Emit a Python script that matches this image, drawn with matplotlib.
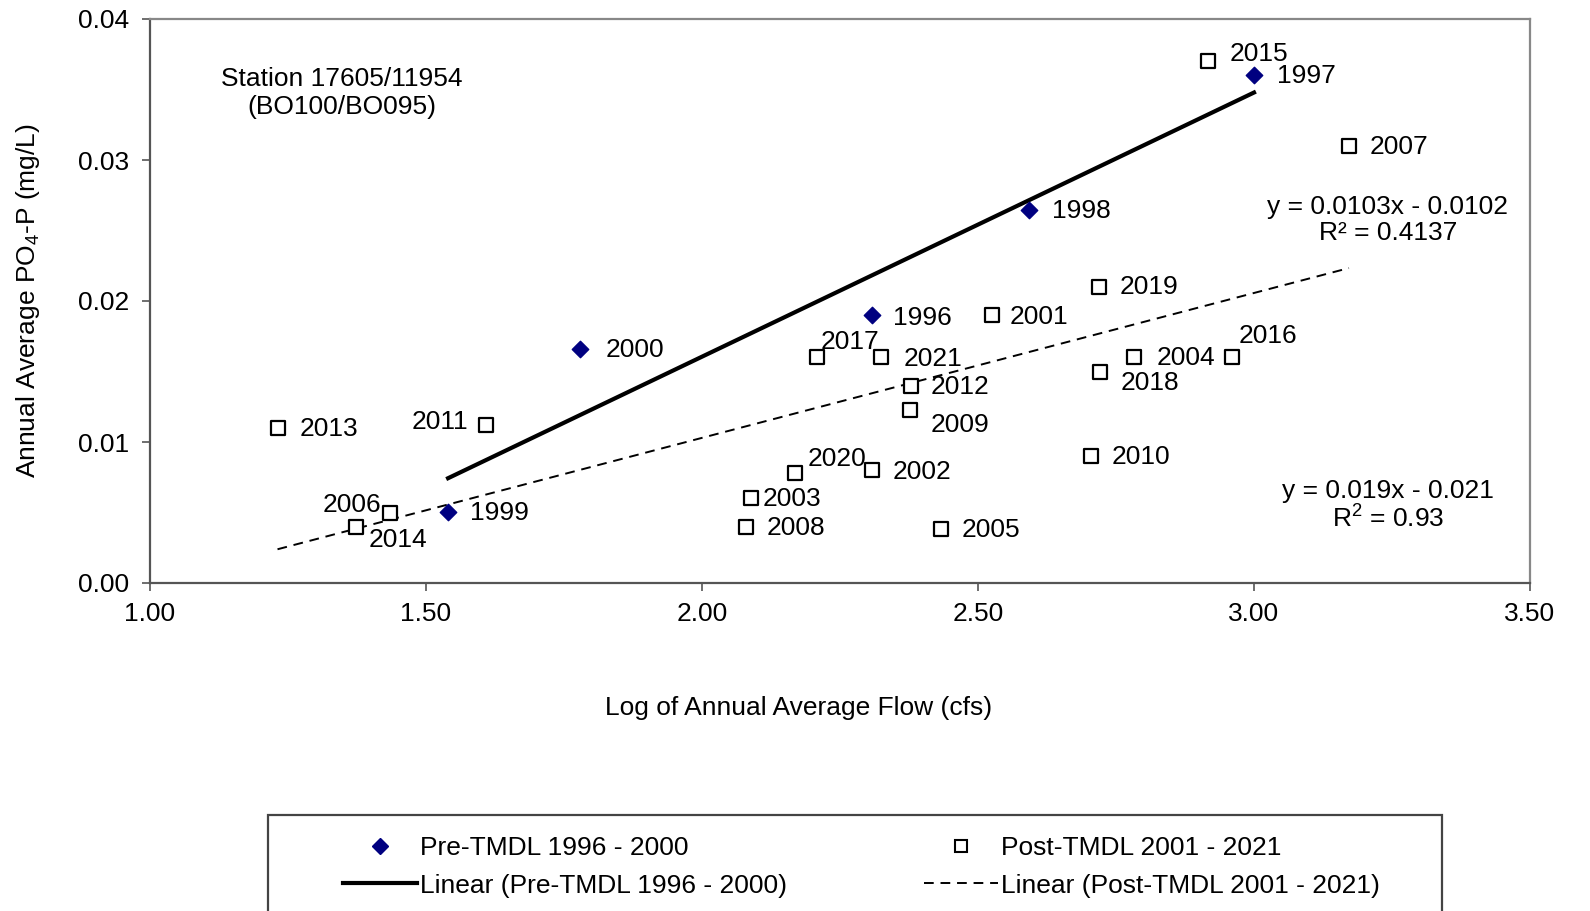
import numpy as np
import matplotlib
matplotlib.use("Agg")
import matplotlib.pyplot as plt
from matplotlib.patches import Rectangle
from matplotlib.lines import Line2D

plt.rcParams['font.family'] = ['Liberation Sans', 'DejaVu Sans']
plt.rcParams['mathtext.fontset'] = 'custom'
plt.rcParams['mathtext.rm'] = 'Liberation Sans'
plt.rcParams['mathtext.it'] = 'Liberation Sans'
fs = 19

# pre-TMDL 1996 - 2000
pre_years = ["1996", "1997", "1998", "1999", "2000"]
pre_x = [2.308, 3.000, 2.592, 1.540, 1.779]
pre_y = [0.0190, 0.0360, 0.02645, 0.00504, 0.0166]

# post-TMDL 2001 - 2021
post_years = ["2001", "2002", "2003", "2004", "2005", "2006", "2007", "2008", "2009", "2010", "2011",
              "2012", "2013", "2014", "2015", "2016", "2017", "2018", "2019", "2020", "2021"]
post_x = [2.526, 2.308, 2.088, 2.782, 2.433, 1.434, 3.172, 2.080, 2.376, 2.705, 1.609,
          2.378, 1.231, 1.373, 2.917, 2.960, 2.208, 2.721, 2.720, 2.168, 2.325]
post_y = [0.0190, 0.0080, 0.0060, 0.0160, 0.0038, 0.0050, 0.0310, 0.0040, 0.0123, 0.0090, 0.0112,
          0.0140, 0.0110, 0.0040, 0.0370, 0.0160, 0.0160, 0.0150, 0.0210, 0.0078, 0.0160]

# label offsets in pixels (dx, dy, ha)
label_off = {
    "1996": (21, -3, "left"), "1997": (23, -1, "left"), "1998": (23, -1, "left"),
    "1999": (22, -1, "left"), "2000": (26, -1, "left"), "2001": (17, -2, "left"),
    "2002": (21, -2, "left"), "2003": (12, -1, "left"), "2004": (23, -1, "left"),
    "2005": (21, -1, "left"), "2006": (-8, 8, "right"), "2007": (21, -1, "left"),
    "2008": (20, -1, "left"), "2009": (21, -15, "left"), "2010": (20, -1, "left"),
    "2011": (-18, 3, "right"), "2012": (20, -1, "left"), "2013": (22, -1, "left"),
    "2014": (13, -13, "left"), "2015": (21, 7, "left"), "2016": (7, 21, "left"),
    "2017": (4, 15, "left"), "2018": (21, -12, "left"), "2019": (20, 0, "left"),
    "2020": (13, 14, "left"), "2021": (22, -2, "left"),
}

fig = plt.figure(figsize=(15.9, 9.11), dpi=100)
ax = fig.add_axes([150 / 1590, 1 - 583 / 911, 1380 / 1590, 564 / 911])

ax.scatter(pre_x, pre_y, marker="D", s=70, color="#000080", zorder=3)
ax.scatter(post_x, post_y, marker="s", s=95, facecolor="white", edgecolor="black",
           linewidth=1.6, zorder=3)

# linear trendlines
p_pre = np.polyfit(pre_x, pre_y, 1)
xx = np.array([min(pre_x), max(pre_x)])
ax.plot(xx, np.polyval(p_pre, xx), color="black", lw=3.0, zorder=2)
p_post = np.polyfit(post_x, post_y, 1)
xx = np.array([min(post_x), max(post_x)])
ax.plot(xx, np.polyval(p_post, xx), color="black", lw=1.4, dashes=(5, 3.5), zorder=2)

for yr, x, y in list(zip(pre_years, pre_x, pre_y)) + list(zip(post_years, post_x, post_y)):
    dx, dy, ha = label_off[yr]
    ax.annotate(yr, (x, y), xytext=(dx, dy), textcoords="offset pixels",
                ha=ha, va="center", fontsize=fs)

ax.text(0.139, 0.869, "Station 17605/11954\n(BO100/BO095)", transform=ax.transAxes,
        ha="center", va="center", fontsize=fs, linespacing=1.2)
ax.text(0.897, 0.644, "y = 0.0103x - 0.0102\nR\u00b2 = 0.4137", transform=ax.transAxes,
        ha="center", va="center", fontsize=fs, linespacing=1.1)
ax.text(0.897, 0.1365, "y = 0.019x - 0.021\nR$^2$ = 0.93", transform=ax.transAxes,
        ha="center", va="center", fontsize=fs, linespacing=1.1)

ax.set_xlim(1.0, 3.5)
ax.set_ylim(0, 0.04)
ax.set_xticks(np.arange(1.0, 3.51, 0.5))
ax.set_yticks(np.arange(0, 0.041, 0.01))
ax.xaxis.set_major_formatter(matplotlib.ticker.FormatStrFormatter("%.2f"))
ax.yaxis.set_major_formatter(matplotlib.ticker.FormatStrFormatter("%.2f"))
ax.tick_params(labelsize=fs, direction="out", length=6, width=1.2, color="#555555")
ax.tick_params(axis="x", pad=8)
ax.tick_params(axis="y", pad=9)
for side in ["left", "bottom"]:
    ax.spines[side].set_color("#555555")
    ax.spines[side].set_linewidth(1.6)
for side in ["top", "right"]:
    ax.spines[side].set_color("#888888")
    ax.spines[side].set_linewidth(1.6)

ax.set_xlabel("Log of Annual Average Flow (cfs)", fontsize=fs, va="center")
ax.xaxis.set_label_coords(0.470, -(708 - 583) / 564)
ax.set_ylabel("Annual Average PO$_4$-P (mg/L)", fontsize=fs, va="center")
ax.yaxis.set_label_coords(-(150 - 28) / 1380, 0.5)

# legend box
fig.patches.append(Rectangle((268 / 1590, -0.05), (1442 - 268) / 1590, (911 - 815) / 911 + 0.05,
                             transform=fig.transFigure, facecolor="white",
                             edgecolor="#444444", linewidth=1.6))
handles = [
    Line2D([], [], marker="D", color="#000080", ls="none", markersize=8),
    Line2D([], [], color="black", lw=3.0),
    Line2D([], [], marker="s", markerfacecolor="white", markeredgecolor="black",
           markeredgewidth=1.5, ls="none", markersize=9),
    Line2D([], [], color="black", lw=1.4, dashes=(5, 3.5)),
]
labels = ["Pre-TMDL 1996 - 2000", "Linear (Pre-TMDL 1996 - 2000)",
          "Post-TMDL 2001 - 2021", "Linear (Post-TMDL 2001 - 2021)"]
fig.legend(handles, labels, ncol=2, frameon=False, fontsize=fs,
           loc="upper left", bbox_to_anchor=(325 / 1590, 1 - 818 / 911),
           handlelength=2.8, handletextpad=0.1, columnspacing=5.2,
           labelspacing=0.5, borderpad=0.2)

fig.savefig("out.png", dpi=100)
